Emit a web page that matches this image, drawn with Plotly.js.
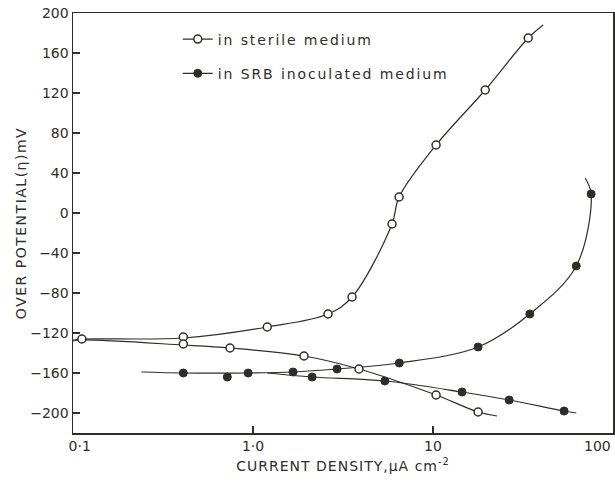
<!DOCTYPE html>
<html>
<head>
<meta charset="utf-8">
<script src="https://cdn.plot.ly/plotly-3.0.1.min.js"></script>
<style>
html,body{margin:0;padding:0;background:#fff;}
#chart{width:615px;height:482px;}
text.legendtext{letter-spacing:1.9px;}
text.xtitle{letter-spacing:1px;}
text.ytitle{letter-spacing:1.5px;}
</style>
</head>
<body>
<div id="chart"></div>
<script>
// ---- Data ----
// Sterile medium: measured points (open circles)
var sterileX = [0.112, 0.41, 0.41, 0.745, 1.2, 1.92, 2.61, 3.55, 3.88, 5.92, 6.48, 10.4, 10.4, 17.8, 19.5, 33.8];
var sterileY = [-126, -124, -131, -135, -114, -143, -101, -84, -156, -11, 16, 68, -182, -199, 123, 175];
// Sterile medium: drawn curves (anodic and cathodic branches)
var sterileAnodicX = [0.1, 0.112, 0.41, 1.2, 2.61, 3.55, 5.92, 6.48, 10.4, 19.5, 33.8, 40.9];
var sterileAnodicY = [-127, -126, -125, -114, -101, -84, -11, 16, 68, 123, 175, 188];
var sterileCathodicX = [0.1, 0.112, 0.41, 0.745, 1.92, 3.88, 10.4, 17.8, 22.7];
var sterileCathodicY = [-128, -127, -132, -135, -143, -156, -182, -199, -203];

// SRB inoculated medium: measured points (filled circles)
var srbX = [0.41, 0.72, 0.94, 1.67, 2.13, 2.93, 5.4, 6.5, 14.5, 17.8, 26.5, 34.5, 53.5, 62.5, 75.6];
var srbY = [-160, -164, -160, -159, -164, -156, -168, -150, -179, -134, -187, -101, -198, -53, 19];
// SRB inoculated medium: drawn curves
var srbAnodicX = [0.24, 0.41, 0.94, 1.67, 2.93, 6.5, 17.8, 34.5, 62.5, 75.6, 70];
var srbAnodicY = [-159, -160, -160, -159, -156, -150, -134, -101, -53, 19, 35];
var srbCathodicX = [1.2, 2.13, 5.4, 14.5, 26.5, 53.5, 62.5];
var srbCathodicY = [-160, -164, -168, -179, -187, -198, -200];

// Axis ticks
var xTickVals = [0.1, 1, 10];
var xTickText = ['\u00a0\u00a0\u00a00\u00b71', '1\u00b70', '10'];
var xLastTick = 100, xLastTickText = '100';
var yTickVals = [-200, -160, -120, -80, -40, 0, 40, 80, 120, 160, 200];
var seriesNames = ['in sterile medium', 'in SRB inoculated medium'];

var ink = '#2e2e28';
var lineStyle = {color: ink, width: 1.2, shape: 'spline', smoothing: 1};

var traces = [
  {x: sterileAnodicX, y: sterileAnodicY, mode: 'lines', line: lineStyle, showlegend: false, hoverinfo: 'skip'},
  {x: sterileCathodicX, y: sterileCathodicY, mode: 'lines', line: lineStyle, showlegend: false, hoverinfo: 'skip'},
  {x: srbAnodicX, y: srbAnodicY, mode: 'lines', line: lineStyle, showlegend: false, hoverinfo: 'skip'},
  {x: srbCathodicX, y: srbCathodicY, mode: 'lines', line: lineStyle, showlegend: false, hoverinfo: 'skip'},
  {x: sterileX, y: sterileY, mode: 'markers', showlegend: false,
   marker: {symbol: 'circle', size: 8, color: '#ffffff', line: {color: ink, width: 1.5}}},
  {x: srbX, y: srbY, mode: 'markers', showlegend: false,
   marker: {symbol: 'circle', size: 8, color: ink, line: {color: ink, width: 1}}},
  // legend entries
  {x: [null], y: [null], mode: 'lines+markers', name: seriesNames[0], legendgroup: 'a',
   line: {color: ink, width: 1.2}, marker: {symbol: 'circle', size: 8, color: '#ffffff', line: {color: ink, width: 1.5}}},
  {x: [null], y: [null], mode: 'lines+markers', name: seriesNames[1], legendgroup: 'b',
   line: {color: ink, width: 1.2}, marker: {symbol: 'circle', size: 8, color: ink, line: {color: ink, width: 1}}}
];

var fontFam = 'DejaVu Sans, sans-serif';
var layout = {
  width: 615, height: 482,
  margin: {l: 73, r: 2, t: 13, b: 49},
  paper_bgcolor: '#ffffff', plot_bgcolor: '#ffffff',
  font: {family: fontFam, size: 14, color: ink},
  showlegend: true,
  legend: {x: 0.194, y: 0.975, xanchor: 'left', yanchor: 'top', bgcolor: 'rgba(0,0,0,0)',
           font: {family: fontFam, size: 14, color: ink}, traceorder: 'grouped', tracegroupgap: 13},
  xaxis: {
    type: 'log', range: [-1, 2],
    tickvals: xTickVals, ticktext: xTickText,
    ticks: 'inside', ticklen: 7, tickwidth: 1.2, tickcolor: ink,
    showline: true, linecolor: ink, linewidth: 1.5, mirror: true,
    showgrid: false, zeroline: false,
    tickfont: {family: fontFam, size: 14, color: ink},
    title: {text: 'CURRENT DENSITY,\u03bcA cm<sup>-2</sup>', font: {family: fontFam, size: 14, color: ink}, standoff: 8},
    automargin: false
  },
  yaxis: {
    range: [-220, 200],
    tickvals: yTickVals,
    ticks: 'inside', ticklen: 7, tickwidth: 1.2, tickcolor: ink,
    showline: true, linecolor: ink, linewidth: 1.5, mirror: true,
    showgrid: false, zeroline: false,
    tickfont: {family: fontFam, size: 14, color: ink},
    title: {text: 'OVER POTENTIAL(\u03b7)mV', font: {family: fontFam, size: 14, color: ink}, standoff: 0},
    automargin: false
  },
  annotations: [
    {x: Math.log10(xLastTick), xref: 'x', y: 0, yref: 'paper', yshift: -3,
     text: xLastTickText, showarrow: false, xanchor: 'right', yanchor: 'top',
     font: {family: fontFam, size: 14, color: ink}}
  ]
};

Plotly.newPlot('chart', traces, layout, {staticPlot: true});
</script>
</body>
</html>
